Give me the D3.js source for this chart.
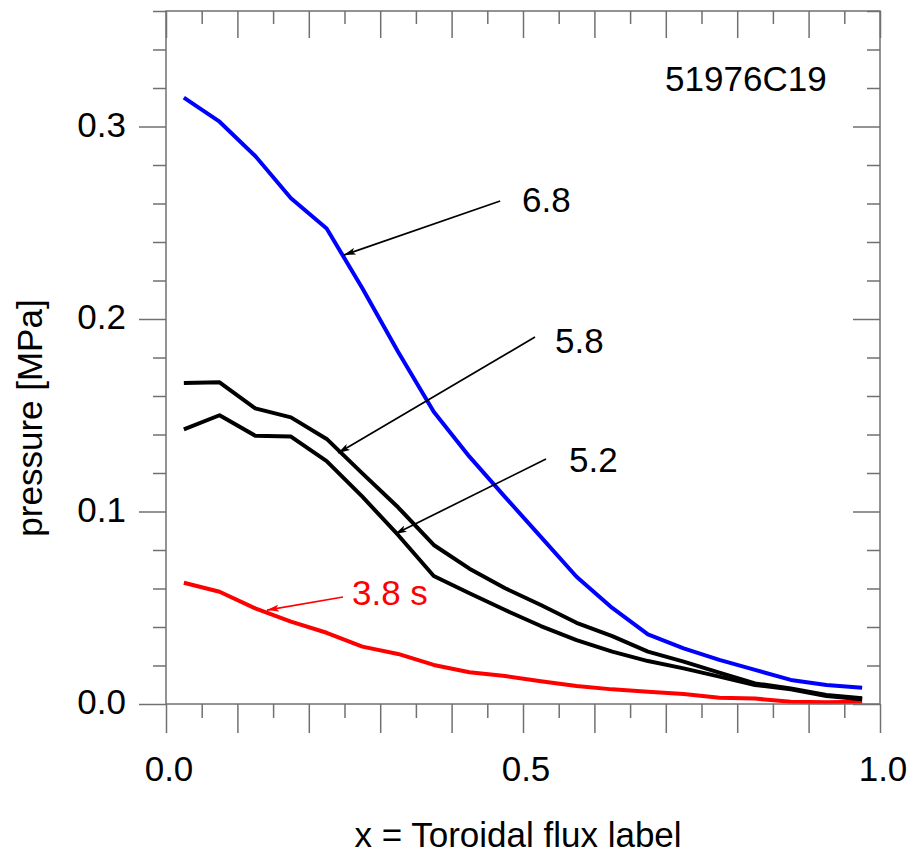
<!DOCTYPE html>
<html>
<head>
<meta charset="utf-8">
<script src="https://cdn.jsdelivr.net/npm/d3@7"></script>
<style>
  html, body { margin: 0; padding: 0; background: #fff; }
  svg { display: block; font-family: "Liberation Sans", Arial, sans-serif; }
</style>
</head>
<body>
<svg id="chart" width="916" height="861"></svg>
<script>
// ---- data ----
const xValues = [0.025, 0.075, 0.125, 0.175, 0.225, 0.275, 0.325, 0.375, 0.425, 0.475,
                 0.525, 0.575, 0.625, 0.675, 0.725, 0.775, 0.825, 0.875, 0.925, 0.975];
const p68 = [0.315, 0.3025, 0.2847, 0.2627, 0.247, 0.216, 0.183, 0.1518, 0.1285, 0.1075,
             0.0868, 0.0661, 0.0499, 0.0362, 0.0289, 0.0229, 0.0177, 0.0125, 0.0099, 0.0085];
const p58 = [0.1667, 0.1671, 0.1536, 0.1489, 0.1377, 0.1198, 0.1022, 0.0826, 0.0703, 0.0601,
             0.0514, 0.0422, 0.0353, 0.0272, 0.022, 0.0163, 0.0107, 0.0081, 0.0047, 0.003];
const p52 = [0.1427, 0.150, 0.1394, 0.1389, 0.1262, 0.1077, 0.0878, 0.0665, 0.0575, 0.0488,
             0.0405, 0.0332, 0.0272, 0.0223, 0.0185, 0.0142, 0.0099, 0.0076, 0.0042, 0.0024];
const p38 = [0.063, 0.0583, 0.0497, 0.0428, 0.037, 0.0298, 0.026, 0.0203, 0.0165, 0.0145,
             0.0118, 0.0094, 0.0076, 0.0064, 0.0052, 0.0033, 0.0028, 0.0012, 0.0009, 0.0012];
const seriesNames = ["3.8 s", "5.2", "5.8", "6.8"];
const seriesColors = ["#ff0000", "#000000", "#000000", "#0000ff"];
const xTickLabels = ["0.0", "0.5", "1.0"];
const yTickLabels = ["0.0", "0.1", "0.2", "0.3"];
const shotLabel = "51976C19";
const xTitle = "x = Toroidal flux label";
const yTitle = "pressure [MPa]";
// annotation arrows (data space): label, label anchor, line start, arrow tip
const annotations = [
  {text: "6.8",   color: "#000", lx: 0.4986, ly: 0.2556, sx: 0.468, sy: 0.2613, tx: 0.249, ty: 0.2332},
  {text: "5.8",   color: "#000", lx: 0.5448, ly: 0.1823, sx: 0.5168, sy: 0.1906, tx: 0.241, ty: 0.1304},
  {text: "5.2",   color: "#000", lx: 0.5644, ly: 0.1205, sx: 0.5322, sy: 0.1273, tx: 0.3207, ty: 0.0883},
  {text: "3.8 s", color: "#ff0000", lx: 0.2605, ly: 0.0514, sx: 0.2479, sy: 0.0556, tx: 0.1415, ty: 0.0488}
];

// ---- layout ----
const svg = d3.select("#chart");
const x = d3.scaleLinear().domain([0, 1]).range([166, 880]);
const y = d3.scaleLinear().domain([0, 0.36]).range([704, 11]);
const axisColor = "#707070";
const FS = 35;

// ---- series ----
const series = [p38, p52, p58, p68];
const line = d3.line().x((d, i) => x(xValues[i])).y(d => y(d));
series.forEach((s, k) => {
  svg.append("path").datum(s)
    .attr("d", line)
    .attr("fill", "none")
    .attr("stroke", seriesColors[k])
    .attr("stroke-width", 4)
    .attr("stroke-linejoin", "round");
});

// ---- axes ----
function styleAxis(g) {
  g.selectAll("path.domain").remove();
  g.selectAll(".tick line").attr("stroke", axisColor).attr("stroke-width", 1.5);
  g.selectAll(".tick text").remove();
}
const xMajor = d3.range(0, 1.0001, 0.1);
const xMinor = d3.range(0.05, 1, 0.1);
const yMajor = d3.range(0, 0.3001, 0.1);
const yMinor = d3.range(0, 0.3601, 0.02).filter(v => Math.abs(v * 10 - Math.round(v * 10)) > 1e-6);

// bottom
svg.append("g").attr("transform", `translate(0,${y(0)})`)
  .call(d3.axisBottom(x).tickValues(xMajor).tickSize(29)).call(styleAxis);
svg.append("g").attr("transform", `translate(0,${y(0)})`)
  .call(d3.axisBottom(x).tickValues(xMinor).tickSize(14)).call(styleAxis);
// top (inward)
svg.append("g").attr("transform", `translate(0,${y(0.36)})`)
  .call(d3.axisBottom(x).tickValues(xMajor).tickSize(27)).call(styleAxis);
svg.append("g").attr("transform", `translate(0,${y(0.36)})`)
  .call(d3.axisBottom(x).tickValues(xMinor).tickSize(13)).call(styleAxis);
// left (outward)
svg.append("g").attr("transform", `translate(${x(0)},0)`)
  .call(d3.axisLeft(y).tickValues(yMajor).tickSize(27)).call(styleAxis);
svg.append("g").attr("transform", `translate(${x(0)},0)`)
  .call(d3.axisLeft(y).tickValues(yMinor).tickSize(13)).call(styleAxis);
// right (inward)
svg.append("g").attr("transform", `translate(${x(1)},0)`)
  .call(d3.axisLeft(y).tickValues(yMajor).tickSize(27)).call(styleAxis);
svg.append("g").attr("transform", `translate(${x(1)},0)`)
  .call(d3.axisLeft(y).tickValues(yMinor).tickSize(13)).call(styleAxis);

// frame
svg.append("rect")
  .attr("x", x(0)).attr("y", y(0.36))
  .attr("width", x(1) - x(0)).attr("height", y(0) - y(0.36))
  .attr("fill", "none").attr("stroke", axisColor).attr("stroke-width", 1.5);

// tick labels
svg.append("g").selectAll("text").data(xTickLabels).join("text")
  .attr("x", d => x(+d) + 3).attr("y", 781)
  .attr("text-anchor", "middle").attr("font-size", FS).attr("fill", "#000")
  .text(d => d);
svg.append("g").selectAll("text").data(yTickLabels).join("text")
  .attr("x", 126).attr("y", d => y(+d) + 10)
  .attr("text-anchor", "end").attr("font-size", FS).attr("fill", "#000")
  .text(d => d);

// titles
svg.append("text").attr("x", 518).attr("y", 847)
  .attr("text-anchor", "middle").attr("font-size", FS).text(xTitle);
svg.append("text")
  .attr("transform", `translate(42,418) rotate(-90)`)
  .attr("text-anchor", "middle").attr("font-size", FS).text(yTitle);

// shot label
svg.append("text").attr("x", x(0.699)).attr("y", y(0.3186))
  .attr("font-size", FS).attr("fill", "#000").text(shotLabel);

// annotations
const defs = svg.append("defs");
annotations.forEach((a, i) => {
  defs.append("marker")
    .attr("id", "arr" + i)
    .attr("viewBox", "0 0 12 7")
    .attr("refX", 12).attr("refY", 3.5)
    .attr("markerWidth", 12).attr("markerHeight", 7)
    .attr("markerUnits", "userSpaceOnUse")
    .attr("orient", "auto")
    .append("path").attr("d", "M0,0 L12,3.5 L0,7 L3,3.5 Z").attr("fill", a.color);
  svg.append("line")
    .attr("x1", x(a.sx)).attr("y1", y(a.sy))
    .attr("x2", x(a.tx)).attr("y2", y(a.ty))
    .attr("stroke", a.color).attr("stroke-width", 1.7)
    .attr("marker-end", `url(#arr${i})`);
  svg.append("text").attr("x", x(a.lx)).attr("y", y(a.ly))
    .attr("font-size", FS).attr("fill", a.color).text(a.text);
});
</script>
</body>
</html>
